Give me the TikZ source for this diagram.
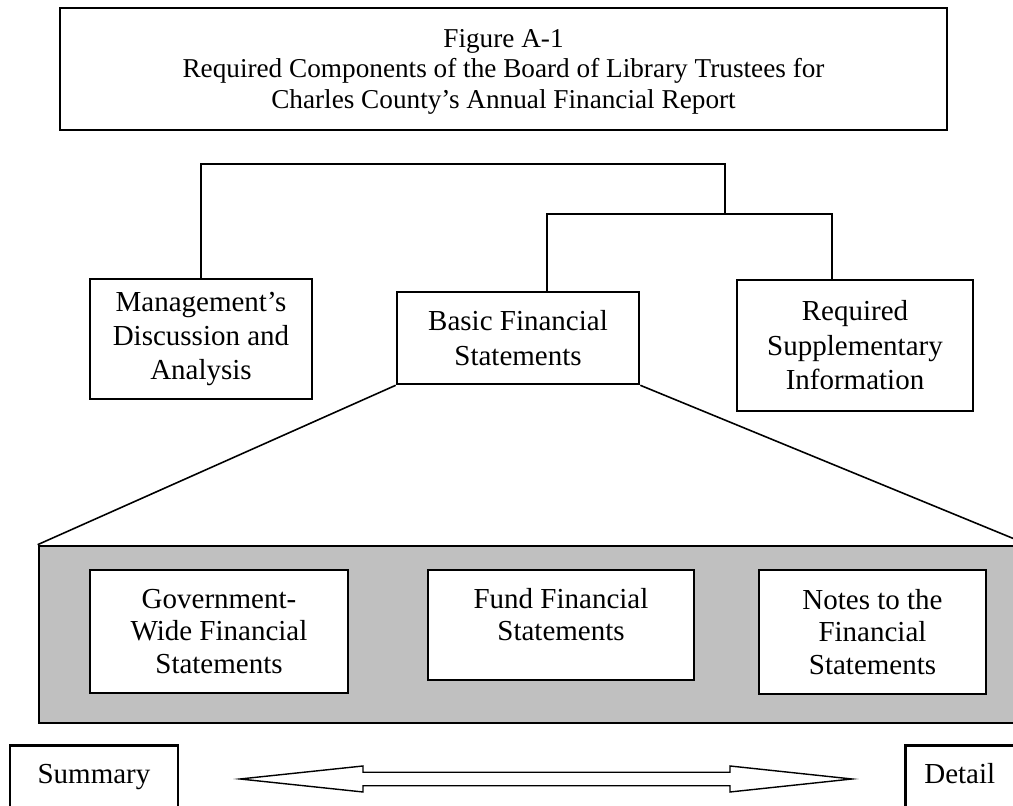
\documentclass[tikz,border=0pt]{standalone}
\usepackage{fontspec}
\setmainfont{Liberation Serif}
\usetikzlibrary{positioning, calc}
\definecolor{panelgray}{RGB}{192,192,192}

\tikzset{
  box/.style={draw, line width=1.5pt, fill=white, align=center, inner sep=0pt,
    font=\fontsize{16.5}{19.6}\selectfont},
  inbox/.style={box, font=\fontsize{16.5}{18.4}\selectfont},
  endbox/.style={draw, line width=1.5pt, anchor=north, inner ysep=0.30cm,
    text height=0.46cm, text depth=1.6cm, font=\fontsize{16.5}{19.6}\selectfont},
  link/.style={line width=1.2pt},
}

\begin{document}
\begin{tikzpicture}
  \path[use as bounding box] (0,0) rectangle (20.26,16.12);
  \clip (0,0) rectangle (20.26,16.12);

  % Title
  \node[box, minimum width=17.74cm, minimum height=2.44cm, text depth=0cm,
    font=\fontsize{15.5}{17.6}\selectfont] (title) at (10.07,14.74)
    {Figure A-1\\Required Components of the Board of Library Trustees for\\Charles County’s Annual Financial Report};

  % Three components
  \node[box, minimum width=4.44cm, minimum height=2.40cm] (mda) at (4.02,9.34)
    {Management’s\\Discussion and\\Analysis};
  \node[box, minimum width=4.84cm, minimum height=1.84cm] (bfs) at (10.36,9.36)
    {Basic Financial\\Statements};
  \node[box, minimum width=4.72cm, minimum height=2.62cm] (rsi) at (17.10,9.21)
    {Required\\Supplementary\\Information};

  % Brackets
  \coordinate (top) at (14.50,12.84);
  \coordinate (fork) at (14.50,11.84);
  \draw[link] (mda.north) |- (top) -- (fork);
  \draw[link] (bfs.north) ++(0.58,0) |- (fork) -| ($(rsi.north)+(-0.46,0)$);

  % Panel of statements
  \node[draw, line width=1.5pt, fill=panelgray, minimum width=19.76cm,
    minimum height=3.54cm] (panel) at (10.66,3.43) {};
  \draw[line width=0.9pt] (bfs.south west) -- (panel.north west);
  \draw[line width=0.9pt] (bfs.south east) -- (panel.north east);

  \node[inbox, minimum width=5.16cm, minimum height=2.46cm] (gwfs) at (4.38,3.49)
    {Government-\\Wide Financial\\Statements};
  \node[inbox, minimum width=5.32cm, minimum height=2.20cm, text depth=0.42cm] (ffs) at (11.22,3.62)
    {Fund Financial\\Statements};
  \node[inbox, minimum width=4.54cm, minimum height=2.48cm] (notes) at (17.45,3.48)
    {Notes to the\\Financial\\Statements};

  % Summary to detail
  \node[endbox, minimum width=3.36cm] (sum) at (1.88,1.24) {Summary};
  \node[endbox, anchor=north west, align=left, text width=2.6cm, inner xsep=0.38cm]
    (det) at (18.08,1.24) {Detail};
  \draw[line width=0.8pt, fill=white]
    (4.80,0.54) -- (7.26,0.80) -- (7.26,0.675) -- (14.60,0.675) -- (14.60,0.80)
    -- (17.04,0.54) -- (14.60,0.28) -- (14.60,0.405) -- (7.26,0.405) -- (7.26,0.28) -- cycle;
\end{tikzpicture}
\end{document}
